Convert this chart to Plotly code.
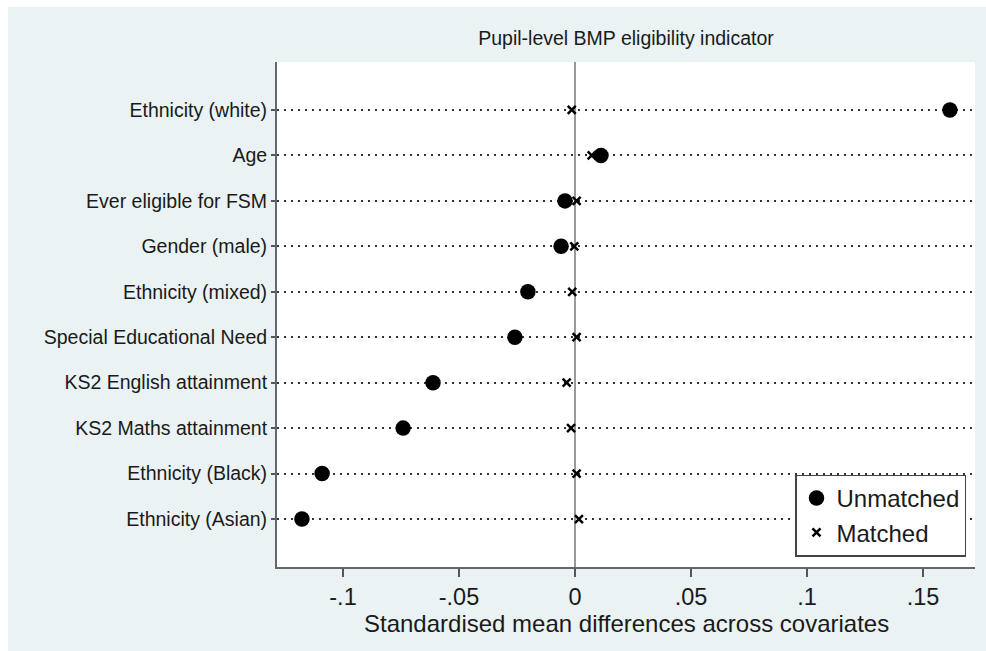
import plotly.graph_objects as go

covariates = ["Ethnicity (white)", "Age", "Ever eligible for FSM", "Gender (male)",
              "Ethnicity (mixed)", "Special Educational Need", "KS2 English attainment",
              "KS2 Maths attainment", "Ethnicity (Black)", "Ethnicity (Asian)"]
unmatched = [0.1616, 0.0112, -0.0043, -0.0060, -0.0203, -0.0259, -0.0612, -0.0741, -0.1090, -0.1177]
matched = [-0.0014, 0.0072, 0.0007, -0.0003, -0.0012, 0.0007, -0.0036, -0.0017, 0.0007, 0.0017]
tick_vals = [-0.1, -0.05, 0, 0.05, 0.1, 0.15]
tick_text = ["-.1", "-.05", "0", ".05", ".1", ".15"]
x_title = "Standardised mean differences across covariates"
chart_title = "Pupil-level BMP eligibility indicator"

W, H = 986, 651
L, R, T, B = 277, 11, 62, 84
pw, ph = W - L - R, H - T - B

FONT = "Liberation Sans, Arial, sans-serif"
TXT = "#1a1a1a"

fig = go.Figure()
fig.add_trace(go.Scatter(x=unmatched, y=covariates, mode="markers", name="Unmatched",
                         marker=dict(symbol="circle", size=15.5, color="black")))
fig.add_trace(go.Scatter(x=matched, y=covariates, mode="markers", name="Matched",
                         marker=dict(symbol="x-thin-open", size=8, color="black",
                                     line=dict(width=2.5, color="black"))))

# outer light background and white plot area
fig.add_shape(type="rect", xref="paper", yref="paper",
              x0=(8 - L) / pw, x1=(W - L) / pw,
              y0=(T + ph - H) / ph, y1=(T + ph - 7) / ph,
              fillcolor="#eaf2f3", line_width=0, layer="below")
fig.add_shape(type="rect", xref="paper", yref="paper", x0=0, x1=1, y0=0, y1=1,
              fillcolor="white", line_width=0, layer="below")

fig.add_annotation(text=x_title, xref="paper", yref="paper",
                   x=(626 - L) / pw, y=(T + ph - 623) / ph, xanchor="center", yanchor="middle",
                   showarrow=False, font=dict(size=24, family=FONT, color=TXT))

fig.update_layout(
    width=W, height=H,
    margin=dict(l=L, r=R, t=T, b=B, autoexpand=False),
    paper_bgcolor="white", plot_bgcolor="rgba(0,0,0,0)",
    font=dict(family=FONT, color=TXT),
    title=dict(text=chart_title, x=0.5, xref="paper",
               y=1 - 38 / H, yanchor="middle", font=dict(size=19.5, family=FONT, color=TXT)),
    showlegend=True,
    legend=dict(x=(966 - L) / pw, xanchor="right", y=(10.5) / ph, yanchor="bottom",
                bgcolor="white", bordercolor="#444", borderwidth=1.5,
                font=dict(size=24, family=FONT, color=TXT),
                itemwidth=30, tracegroupgap=0),
    xaxis=dict(range=[(L - 575) / 2320, (L + pw - 575) / 2320],
               tickvals=tick_vals, ticktext=tick_text, tickfont=dict(size=23.5),
               ticks="outside", ticklen=8, tickwidth=1.5, tickcolor="#555",
               showline=True, linecolor="#666", linewidth=2,
               showgrid=False, zeroline=True, zerolinecolor="#999", zerolinewidth=2),
    yaxis=dict(type="category", categoryorder="array", categoryarray=covariates,
               range=[10.056, -1.056], tickfont=dict(size=19.5),
               ticks="outside", ticklen=4, tickwidth=1.5, tickcolor="#555",
               showline=True, linecolor="#666", linewidth=2,
               showgrid=True, gridcolor="#333", gridwidth=2, griddash="2px,5px",
               zeroline=False),
)

fig.write_html("out.html")
